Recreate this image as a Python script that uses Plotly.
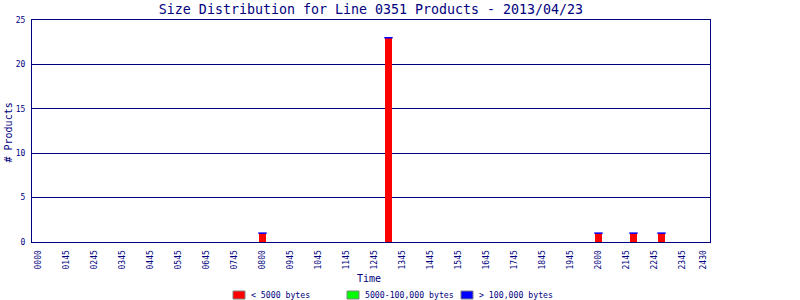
import plotly.graph_objects as go

# ---- data ----
bin_times = ["08:00", "12:30", "20:00", "21:15", "22:15"]   # 15-minute bins with products
small_counts = [1, 23, 1, 1, 1]        # < 5000 bytes
medium_counts = [0, 0, 0, 0, 0]        # 5000-100,000 bytes
large_counts = [0, 0, 0, 0, 0]         # > 100,000 bytes
series_names = ["< 5000 bytes", "5000-100,000 bytes", "> 100,000 bytes"]
series_colors = ["#FF0000", "#00FF00", "#0000FF"]
tick_labels = ["0000", "0145", "0245", "0345", "0445", "0545", "0645", "0745",
               "0800", "0945", "1045", "1145", "1245", "1345", "1445", "1545",
               "1645", "1745", "1845", "1945", "2000", "2145", "2245", "2345", "2430"]
y_ticks = [0, 5, 10, 15, 20, 25]

NAVY = "#000080"
FONT = "DejaVu Sans Mono"

# plot-area geometry (pixels)
L, R, T, B = 32, 710, 20, 242
W, H = 800, 300


def px(x):
    return (x - L) / (R - L)


def py(y):
    return (B - y) / (B - T)


def to_bin(t):
    h, m = t.split(":")
    return (int(h) * 60 + int(m)) / 15.0


xb = [to_bin(t) for t in bin_times]
totals = [a + b + c for a, b, c in zip(small_counts, medium_counts, large_counts)]
tick_vals = list(range(0, 96, 4)) + [95]

fig = go.Figure()
for vals, name, col in zip([small_counts, medium_counts, large_counts], series_names, series_colors):
    fig.add_trace(go.Bar(x=xb, y=vals, name=name, width=0.86, showlegend=False,
                         marker=dict(color=col, line=dict(width=0))))
# blue cap on each bar
fig.add_trace(go.Scatter(x=xb, y=totals, mode="markers", showlegend=False, hoverinfo="skip",
                         marker=dict(symbol="line-ew", size=6, line=dict(color="#0000FF", width=1.5))))

# custom legend (swatch + label)
shapes, annotations = [], []
leg_x = [233, 347, 461]
for x0, name, col in zip(leg_x, series_names, series_colors):
    shapes.append(dict(type="rect", xref="paper", yref="paper",
                       x0=px(x0), x1=px(x0 + 12), y0=py(299), y1=py(291),
                       fillcolor=col, line=dict(color="#808080", width=1)))
    annotations.append(dict(text=name, xref="paper", yref="paper", x=px(x0 + 16), y=py(295),
                            xanchor="left", yanchor="middle", showarrow=False,
                            font=dict(family=FONT, size=8.2, color=NAVY)))

annotations += [
    dict(text="Time", xref="paper", yref="paper", x=px(369), y=py(278), showarrow=False,
         xanchor="center", yanchor="middle", font=dict(family=FONT, size=10, color=NAVY)),
    dict(text="# Products", xref="paper", yref="paper", x=px(7.5), y=py(132), showarrow=False,
         textangle=-90, xanchor="center", yanchor="middle",
         font=dict(family=FONT, size=10, color=NAVY)),
]

fig.update_layout(
    width=W, height=H,
    margin=dict(l=L, r=W - R, t=T, b=H - B, autoexpand=False),
    paper_bgcolor="white", plot_bgcolor="white",
    barmode="stack",
    title=dict(text="Size Distribution for Line 0351 Products - 2013/04/23",
               font=dict(family=FONT, size=13.3, color=NAVY),
               x=0.5, xref="paper", xanchor="center", y=1 - 9 / H, yref="container",
               yanchor="middle"),
    showlegend=False,
    shapes=shapes,
    annotations=annotations,
)
fig.update_xaxes(range=[-0.93, 95.93], tickmode="array", tickvals=tick_vals, ticktext=tick_labels,
                 tickangle=-90, tickfont=dict(family=FONT, size=8, color=NAVY),
                 showgrid=False, zeroline=False, showline=True, linecolor=NAVY, linewidth=1,
                 mirror=True, ticks="", ticklabelstandoff=4)
fig.update_yaxes(range=[0, 25], tickmode="array", tickvals=y_ticks,
                 tickfont=dict(family=FONT, size=8, color=NAVY),
                 showgrid=True, gridcolor=NAVY, gridwidth=1, zeroline=False,
                 showline=True, linecolor=NAVY, linewidth=1, mirror=True, ticks="",
                 ticklabelstandoff=4)

fig.write_html("out.html")
